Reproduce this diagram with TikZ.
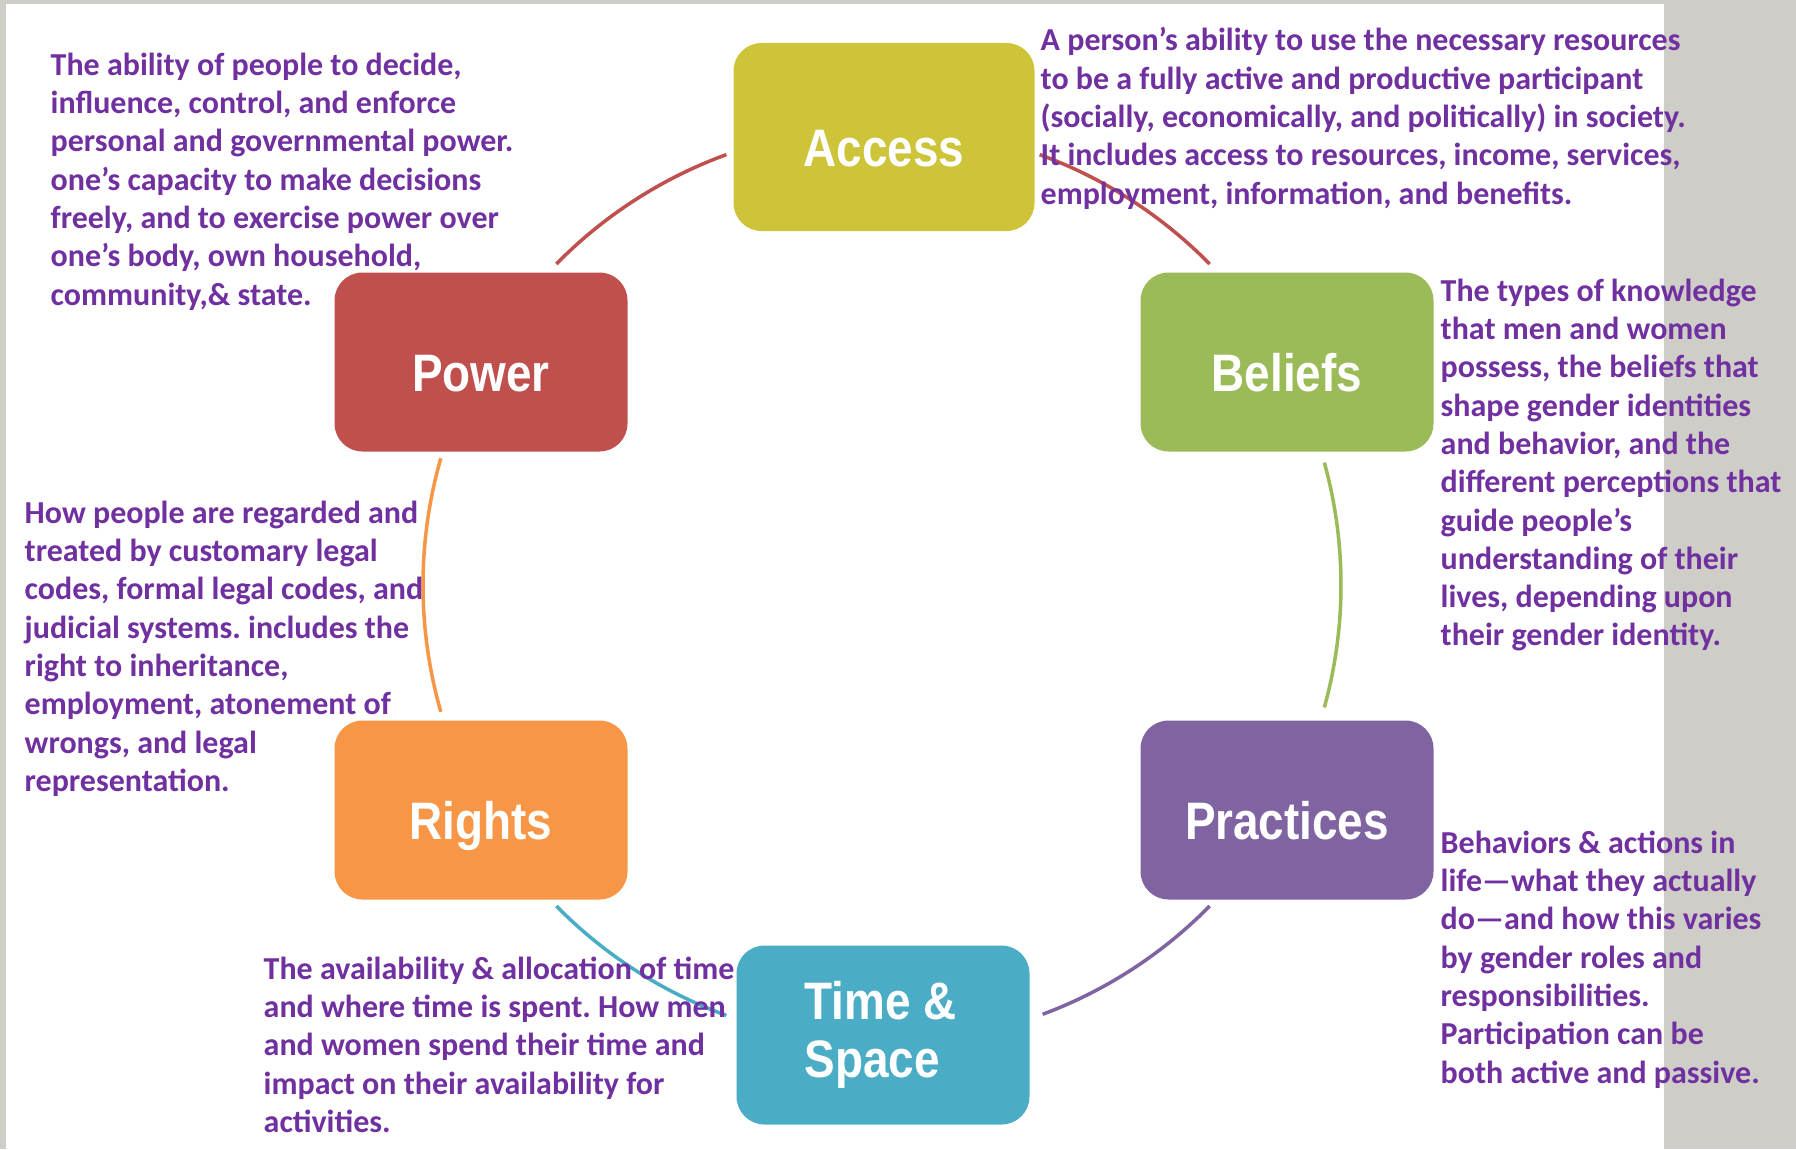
\documentclass[tikz,border=0pt]{standalone}
\usepackage{fontspec}
\setmainfont{Carlito}
\newfontfamily\boxfont{Liberation Sans}[FakeStretch=0.87]
\usetikzlibrary{calc}
\frenchspacing

\definecolor{slidegrey}{RGB}{206,205,200}
\definecolor{txtpurple}{RGB}{112,48,160}
\definecolor{accessc}{RGB}{205,196,58}
\definecolor{beliefsc}{RGB}{155,187,89}
\definecolor{practicesc}{RGB}{128,100,162}
\definecolor{timec}{RGB}{75,172,198}
\definecolor{rightsc}{RGB}{247,150,70}
\definecolor{powerc}{RGB}{192,80,77}

\tikzset{
  gbox/.style={fill=#1, rounded corners=0.28cm, minimum width=2.93cm, minimum height=1.79cm,
    text=white, align=left, font=\boxfont\bfseries\fontsize{15}{16.5}\selectfont},
  oneline/.style={text height=0.59cm, text depth=0cm},
  desc/.style={anchor=north west, inner sep=0pt, align=left, text=txtpurple,
    font=\bfseries\fontsize{9.1}{10.9}\selectfont},
  ring/.style={line width=1pt}
}

\begin{document}
\begin{tikzpicture}
  \useasboundingbox (0,0) rectangle (17.96,-11.49);
  \fill[slidegrey] (0,0) rectangle (17.96,-11.49);
  \fill[white] (0.06,-0.04) rectangle (16.64,-11.49);

  % the ring
  \coordinate (ctr) at (8.83,-5.85);
  \draw[ring, powerc] (ctr) ++(110:4.58) arc[start angle=110, end angle=135.5, radius=4.58];
  \draw[ring, powerc] (ctr) ++(44.5:4.58) arc[start angle=44.5, end angle=70, radius=4.58];
  \draw[ring, beliefsc] (ctr) ++(-15.5:4.58) arc[start angle=-15.5, end angle=15.5, radius=4.58];
  \draw[ring, practicesc] (ctr) ++(-69.6:4.58) arc[start angle=-69.6, end angle=-44.5, radius=4.58];
  \draw[ring, timec] (ctr) ++(-135.5:4.58) arc[start angle=-135.5, end angle=-110, radius=4.58];
  \draw[ring, rightsc] (ctr) ++(164:4.6) arc[start angle=164, end angle=196, radius=4.6];

  % the six boxes
  \node[gbox=accessc, oneline, minimum width=3.01cm, minimum height=1.88cm] (access) at (8.84,-1.37) {Access};
  \node[gbox=beliefsc, oneline] (beliefs) at (12.87,-3.62) {Beliefs};
  \node[gbox=practicesc, oneline] (practices) at (12.87,-8.10) {Practices};
  \node[gbox=timec] (timespace) at (8.83,-10.35) {Time \&\\Space\hspace*{0.22cm}};
  \node[gbox=rightsc, oneline] (rights) at (4.81,-8.10) {Rights};
  \node[gbox=powerc, oneline] (power) at (4.81,-3.62) {Power};

  % descriptions
  \node[desc] (powertxt) at (0.50,-0.52) {The ability of people to decide,\\
    influence, control, and enforce\\
    personal and governmental power.\\
    one’s capacity to make decisions\\
    freely, and to exercise power over\\
    one’s body, own household,\\
    community,\& state.};
  \node[desc] (accesstxt) at (10.40,-0.27) {A person’s ability to use the necessary resources\\
    to be a fully active and productive participant\\
    (socially, economically, and politically) in society.\\
    It includes access to resources, income, services,\\
    employment, information, and benefits.};
  \node[desc] (beliefstxt) at (14.40,-2.78) {The types of knowledge\\
    that men and women\\
    possess, the beliefs that\\
    shape gender identities\\
    and behavior, and the\\
    different perceptions that\\
    guide people’s\\
    understanding of their\\
    lives, depending upon\\
    their gender identity.};
  \node[desc] (rightstxt) at (0.24,-5.00) {How people are regarded and\\
    treated by customary legal\\
    codes, formal legal codes, and\\
    judicial systems. includes the\\
    right to inheritance,\\
    employment, atonement of\\
    wrongs, and legal\\
    representation.};
  \node[desc] (practicestxt) at (14.40,-8.30) {Behaviors \& actions in\\
    life—what they actually\\
    do—and how this varies\\
    by gender roles and\\
    responsibilities.\\
    Participation can be\\
    both active and passive.};
  \node[desc] (timetxt) at (2.63,-9.56) {The availability \& allocation of time\\
    and where time is spent. How men\\
    and women spend their time and\\
    impact on their availability for\\
    activities.};
\end{tikzpicture}
\end{document}
